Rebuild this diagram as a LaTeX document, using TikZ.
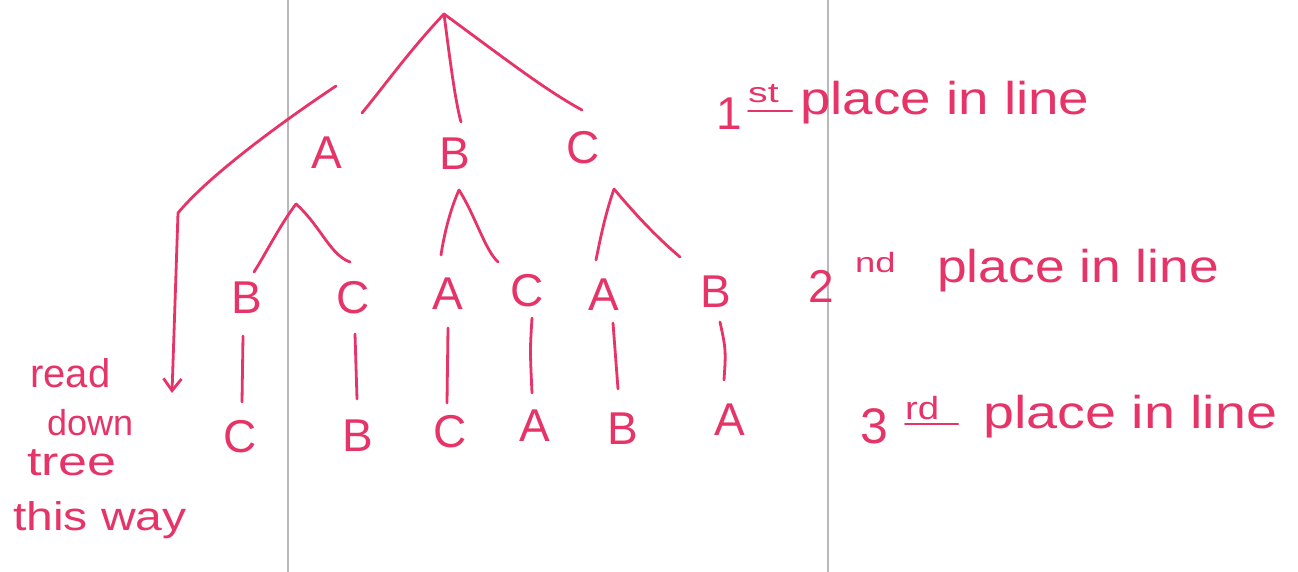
\documentclass[tikz,border=0pt]{standalone}
\usepackage{fontspec}
\setmainfont{Liberation Sans}
\usetikzlibrary{arrows.meta}
\definecolor{ink}{RGB}{230,52,104}
\definecolor{rulegray}{RGB}{185,185,185}
\begin{document}
\begin{tikzpicture}[x=1pt,y=-1pt,
  pen/.style={draw=ink,line width=2.8pt,line cap=round,line join=round},
  letter/.style={text=ink,font=\fontsize{46}{46}\selectfont,inner sep=0pt},
  hand/.style={text=ink,inner sep=0pt,anchor=base west},
  big/.style={font=\fontsize{46}{46}\selectfont},
  sup/.style={font=\fontsize{28}{28}\selectfont},
  note/.style={font=\fontsize{40}{40}\selectfont},
  ]
\useasboundingbox (0,0) rectangle (1298,572);
\fill[white] (0,0) rectangle (1298,572);
\draw[rulegray,line width=1.5pt] (288,0) -- (288,572);
\draw[rulegray,line width=1.5pt] (828,0) -- (828,572);

% level 1
\node[letter] (A1) at (327,153) {A};
\node[letter] (B1) at (455,154) {B};
\node[letter] (C1) at (583,148) {C};
% level 2
\node[letter] (AB) at (247,298) {B};
\node[letter] (AC) at (353,298) {C};
\node[letter] (BA) at (448,294) {A};
\node[letter] (BC) at (527,291) {C};
\node[letter] (CA) at (604,295) {A};
\node[letter] (CB) at (716,292) {B};
% level 3
\node[letter] (ABC) at (240,437) {C};
\node[letter] (ACB) at (358,436) {B};
\node[letter] (BAC) at (450,432) {C};
\node[letter] (BCA) at (535,426) {A};
\node[letter] (CAB) at (623,429) {B};
\node[letter] (CBA) at (730,420) {A};

% root branches
\coordinate (root) at (444,14);
\coordinate (eA) at (362,113);
\coordinate (eB) at (461,122);
\coordinate (eC) at (582,110);
\draw[pen] (root) .. controls (410,50) and (385,85) .. (eA);
\draw[pen] (root) .. controls (450,60) and (455,100) .. (eB);
\draw[pen] (root) .. controls (500,55) and (545,90) .. (eC);

% level 2 branches
\coordinate (pA) at (296,204);
\coordinate (pB) at (459,190);
\coordinate (pC) at (614,189);
\draw[pen] (pA) .. controls (280,225) and (265,255) .. (254,272);
\draw[pen] (pA) .. controls (320,225) and (330,255) .. (350,262);
\draw[pen] (pB) .. controls (450,210) and (444,235) .. (441,255);
\draw[pen] (pB) .. controls (475,215) and (485,250) .. (498,262);
\draw[pen] (pC) .. controls (605,215) and (600,240) .. (596,260);
\draw[pen] (pC) .. controls (640,220) and (660,240) .. (680,257);

% level 3 connectors
\draw[pen] (243,336) -- (242,402);
\draw[pen] (355,334) -- (357,399);
\draw[pen] (448,328) -- (447,403);
\draw[pen] (532,318) .. controls (530,350) .. (532,393);
\draw[pen] (613,323) -- (618,389);
\draw[pen] (720,322) .. controls (726,350) .. (724,380);

% arrow
\coordinate (ast) at (336,86);
\coordinate (abend) at (178,213);
\coordinate (aend) at (172,393);
\draw[pen,-{Straight Barb[length=12pt,width=18pt,line width=2.8pt]}] (ast) .. controls (270,130) and (205,180) .. (abend) -- (aend);

% labels right
\node[hand,big] (n1) at (716,130) {1};
\node[hand,sup] (s1) at (748,103) {\scalebox{1.4}[1]{st}};
\draw[pen,line width=2pt] (748,111) -- (792,111);
\node[hand,big] (t1) at (800,115) {\scalebox{1.19}[1]{place in line}};

\node[hand,big] (n2) at (808,302) {2};
\node[hand,sup] (s2) at (855,272) {\scalebox{1.3}[1]{nd}};
\node[hand,big] (t2) at (937,282) {\scalebox{1.16}[1]{place in line}};

\node[hand,font=\fontsize{50}{50}\selectfont] (n3) at (860,443) {3};
\node[hand,font=\fontsize{32}{32}\selectfont] (s3) at (905,419) {\scalebox{1.2}[1]{rd}};
\draw[pen,line width=2pt] (905,424) -- (958,424);
\node[hand,big] (t3) at (983,428) {\scalebox{1.21}[1]{place in line}};

% left note
\node[hand,note] (w1) at (30,387) {read};
\node[hand,font=\fontsize{36}{36}\selectfont] (w2) at (47,435) {down};
\node[hand,note] (w3) at (27,475) {\scalebox{1.3}[1]{tree}};
\node[hand,note] (w4) at (13,530) {\scalebox{1.2}[1]{this way}};
\end{tikzpicture}
\end{document}
